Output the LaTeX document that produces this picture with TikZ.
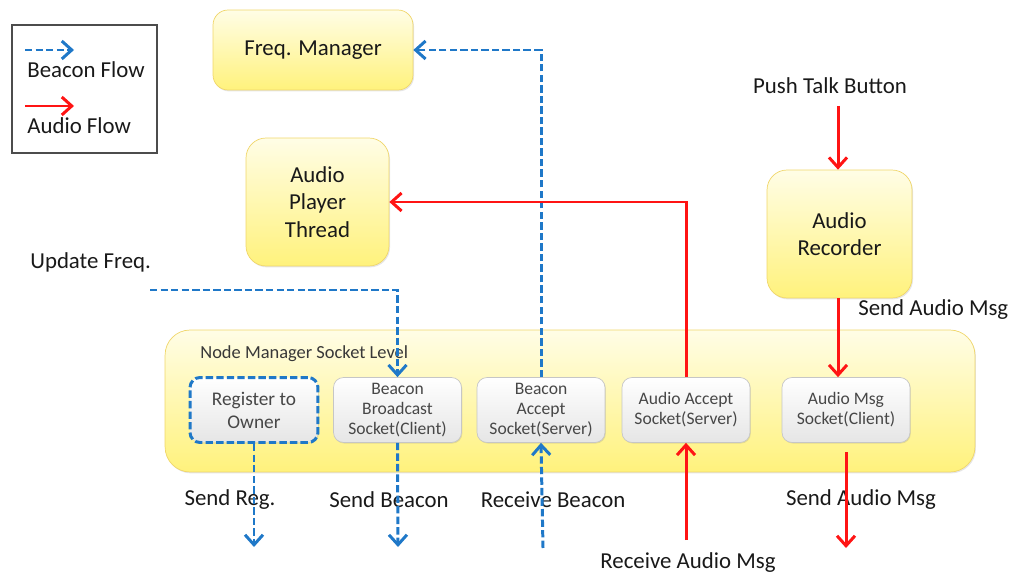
\documentclass[tikz,border=0pt]{standalone}
\usepackage{fontspec}
\setmainfont{Carlito}
\usetikzlibrary{positioning,arrows.meta,shadows}
\definecolor{beaconblue}{HTML}{1F78C8}
\definecolor{audiored}{HTML}{FF1414}
\definecolor{boxedge}{HTML}{F0D66A}
\definecolor{boxtop}{HTML}{FFFDE6}
\definecolor{boxbot}{HTML}{FFF27C}
\tikzset{
  modblock/.style={
    draw=boxedge, rounded corners=3mm, top color=boxtop, bottom color=boxbot,
    align=center, font=\fontsize{13}{15.5}\selectfont, text=black!90,
    drop shadow={opacity=0.2, shadow xshift=0.6pt, shadow yshift=-0.8pt}
  },
  sockblock/.style={
    draw=gray!45, rounded corners=2mm, top color=white, bottom color=gray!20,
    minimum width=2.56cm, minimum height=1.3cm, inner sep=1mm,
    align=center, font=\fontsize{10}{11.5}\selectfont, text=black!72,
    drop shadow={opacity=0.2, shadow xshift=0.5pt, shadow yshift=-0.6pt}
  },
  lbl/.style={font=\fontsize{13}{15}\selectfont, text=black!90, inner sep=0pt},
  beacon/.style={draw=beaconblue, line width=1.7pt, dash pattern=on 4.2pt off 1.8pt,
    -{Straight Barb[length=2mm,width=3.6mm]}},
  audio/.style={draw=audiored, line width=1.7pt,
    -{Straight Barb[length=2mm,width=3.6mm]}}
}
\begin{document}
\begin{tikzpicture}[x=0.02cm, y=-0.02cm]
  \useasboundingbox (0,0) rectangle (1017,577);

  % legend
  \node[draw=black!70, line width=1pt, minimum width=2.9cm, minimum height=2.56cm] (legend) at (84.5,89) {};
  \coordinate (lgb1) at (25,50);
  \coordinate (lgb2) at (74,50);
  \coordinate (lga1) at (25,106);
  \coordinate (lga2) at (74,106);
  \draw[beacon] (lgb1) -- (lgb2);
  \draw[audio] (lga1) -- (lga2);
  \node[lbl, anchor=west] (lgbtext) at (27,70) {Beacon Flow};
  \node[lbl, anchor=west] (lgatext) at (27,126) {Audio Flow};

  % upper modules
  \node[modblock, minimum width=4cm, minimum height=1.6cm] (fm) at (313,50) {Freq. Manager};
  \node[modblock, rounded corners=4mm, minimum width=2.86cm, minimum height=2.56cm] (ap) at (317.5,202) {Audio\\Player\\Thread};
  \node[modblock, rounded corners=4mm, minimum width=2.9cm, minimum height=2.56cm] (rec) at (839.5,234) {Audio\\Recorder};

  % socket level
  \node[modblock, rounded corners=5mm, minimum width=16.2cm, minimum height=2.84cm] (nm) at (570,401) {};
  \node[anchor=west, font=\fontsize{10.5}{12}\selectfont, text=black!78, inner sep=0pt] (nmtext) at (200,354) {Node Manager Socket Level};
  \node[sockblock, font=\fontsize{11}{13}\selectfont, draw=beaconblue, line width=1.7pt, dash pattern=on 4.2pt off 1.8pt] (reg) at (254,410) {Register to\\Owner};
  \node[sockblock] (bb) at (397.5,410) {Beacon\\Broadcast\\Socket(Client)};
  \node[sockblock] (ba) at (541,410) {Beacon\\Accept\\Socket(Server)};
  \node[sockblock] (aa) at (686,410) {Audio Accept\\Socket(Server)};
  \node[sockblock] (msg) at (846,410) {Audio Msg\\Socket(Client)};

  % outside labels
  \node[lbl] (push) at (830,86) {Push Talk Button};
  \node[lbl, anchor=west] (upd) at (30,262) {Update Freq.};
  \node[lbl, anchor=west] (sendup) at (858,310) {Send Audio Msg};
  \node[lbl] (sreg) at (230,500) {Send Reg.};
  \node[lbl] (sbeac) at (389,500) {Send Beacon};
  \node[lbl] (rbeac) at (553,500) {Receive Beacon};
  \node[lbl] (saud) at (861,500) {Send Audio Msg};
  \node[lbl] (raud) at (688,563) {Receive Audio Msg};

  % free ends
  \coordinate (pt) at (838,106);
  \coordinate (uf) at (150,290);
  \coordinate (regout) at (254,547);
  \coordinate (bbout) at (398,547);
  \coordinate (bain) at (543,548);
  \coordinate (aain) at (686,540);
  \coordinate (msgtop) at (846,452);
  \coordinate (msgout) at (846,548);

  % beacon flow
  \draw[beacon] (uf) -| (bb.north);
  \draw[beacon] (ba.north) |- (fm.east);
  \draw[beacon] (reg.south) -- (regout);
  \draw[beacon] (bb.south) -- (bbout);
  \draw[beacon] (bain) -- (ba.south);

  % audio flow
  \draw[audio] (pt) -- (pt |- rec.north);
  \draw[audio] (pt |- rec.south) -- (pt |- msg.north);
  \draw[audio] (aa.north) |- (ap.east);
  \draw[audio] (aain) -- (aa.south);
  \draw[audio] (msgtop) -- (msgout);
\end{tikzpicture}
\end{document}
